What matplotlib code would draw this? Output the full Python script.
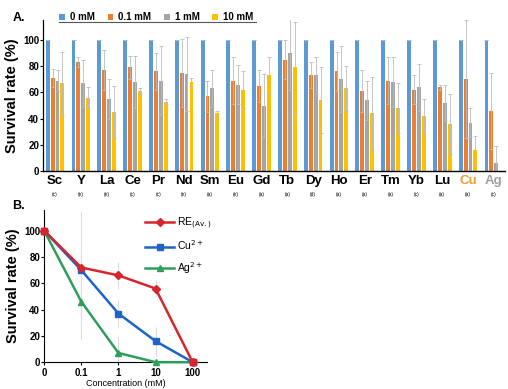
"""Survival rate chart: panel A bars per element, panel B concentration curves"""
import matplotlib
matplotlib.use("Agg")
import matplotlib.pyplot as plt
import matplotlib.transforms as mtrans
import numpy as np

plt.rcParams["font.family"] = ["Liberation Sans", "DejaVu Sans"]

# ---- panel A data ----
elements = ["Sc", "Y", "La", "Ce", "Pr", "Nd", "Sm", "Eu", "Gd", "Tb",
            "Dy", "Ho", "Er", "Tm", "Yb", "Lu", "Cu", "Ag"]
groups = ["(c)", "(n)", "(n)", "(c)", "(c)", "(n)", "(a)", "(n)", "(a)", "(a)",
          "(d)", "(a)", "(a)", "(a)", "(c)", "(a)", "(a)", "(c)"]
conc_labels = ["0 mM", "0.1 mM", "1 mM", "10 mM"]

surv_0 = [100] * 18
surv_01 = [71, 83, 77, 79, 76, 75, 57, 69, 65, 85, 73, 76, 61, 69, 62, 64, 70, 46]
surv_1 = [69, 67, 55, 68, 69, 74, 63, 66, 50, 90, 73, 70, 54, 68, 64, 52, 37, 6]
surv_10 = [67, 56, 45, 61, 53, 68, 44, 62, 73, 79, 54, 63, 44, 48, 42, 36, 16, 0]

err_0 = [0] * 18
err_01 = [7, 4, 15, 9, 14, 26, 12, 18, 12, 15, 10, 15, 16, 18, 11, 2, 45, 29]
err_1 = [8, 18, 15, 20, 26, 28, 14, 15, 24, 28, 14, 25, 15, 19, 18, 14, 11, 13]
err_10 = [24, 8, 20, 2, 2, 3, 2, 14, 14, 35, 25, 17, 28, 19, 13, 23, 11, 0]

# ---- panel B data ----
conc_ticks = ["0", "0.1", "1", "10", "100"]
re_avg = [100, 72, 66, 56, 0]
cu_curve = [100, 70, 37, 16, 0]
ag_curve = [100, 46, 7, 0, 0]
re_err = [0, 8, 10, 6, 0]
cu_err = [0, 45, 11, 11, 0]
ag_err = [0, 29, 13, 0, 0]

bar_colors = ["#5B9BD5", "#ED7D31", "#A5A5A5", "#FFC000"]

fig = plt.figure(figsize=(5.08, 3.89), dpi=100)

# ---------------- Panel A ----------------
axA = fig.add_axes([0.085, 0.56, 0.91, 0.388])
x = np.arange(len(elements))
width = 0.15
step = 0.19
series = [surv_0, surv_01, surv_1, surv_10]
errs = [err_0, err_01, err_1, err_10]
for i, (vals, e, c, lab) in enumerate(zip(series, errs, bar_colors, conc_labels)):
    axA.bar(x + (i - 1.5) * step, vals, width, color=c, label=lab,
            yerr=e, ecolor="#BBBBBB",
            error_kw=dict(elinewidth=0.6, capsize=1.5, capthick=0.6))

axA.set_xlim(-0.46, 17.45)
axA.set_ylim(0, 115)
axA.set_yticks([0, 20, 40, 60, 80, 100])
axA.tick_params(axis="y", labelsize=7, length=2, width=0.8, pad=1)
for t in axA.get_yticklabels():
    t.set_fontweight("bold")
axA.set_xticks(x)
axA.set_xticklabels(elements, fontsize=9.5, fontweight="bold")
axA.tick_params(axis="x", length=0, pad=3)
for t, name in zip(axA.get_xticklabels(), elements):
    if name == "Cu":
        t.set_color("#F39C33")
    elif name == "Ag":
        t.set_color("#A0A0A0")
trans = mtrans.blended_transform_factory(axA.transData, axA.transAxes)
for xi, g in zip(x, groups):
    axA.text(xi, -0.14, g, transform=trans, ha="center", va="top", fontsize=3.5)
for s in ["top", "right"]:
    axA.spines[s].set_visible(False)
axA.spines["left"].set_linewidth(0.9)
axA.spines["bottom"].set_linewidth(1.0)
axA.set_ylabel("Survival rate (%)", fontsize=10.5, fontweight="bold", labelpad=3)

axA.legend(loc="lower left", bbox_to_anchor=(0.035, 0.985), ncol=4,
           frameon=False, prop={"weight": "bold", "size": 7},
           handlelength=0.6, handleheight=0.6, handletextpad=0.5,
           columnspacing=1.3, borderaxespad=0, borderpad=0)
axA.plot([0.035, 0.46], [0.99, 0.99], transform=axA.transAxes,
         color="#555555", lw=0.8, clip_on=False)
fig.text(0.024, 0.947, "A.", fontsize=9, fontweight="bold")

# ---------------- Panel B ----------------
axB = fig.add_axes([0.087, 0.069, 0.32, 0.392])
xp = np.arange(len(conc_ticks))
for vals, e in [(re_avg, re_err), (cu_curve, cu_err), (ag_curve, ag_err)]:
    axB.errorbar(xp, vals, yerr=e, fmt="none", ecolor="#DDDDDD",
                 elinewidth=0.8, capsize=0, zorder=1)
axB.plot(xp, ag_curve, color="#2E9E5B", lw=1.8, marker="^", markersize=5,
         label="Ag$^{2+}$", clip_on=False, zorder=3)
axB.plot(xp, cu_curve, color="#1E64C8", lw=1.8, marker="s", markersize=4.5,
         label="Cu$^{2+}$", clip_on=False, zorder=4)
axB.plot(xp, re_avg, color="#D7262B", lw=1.8, marker="D", markersize=4,
         label="RE$_{\\rm (Av.)}$", clip_on=False, zorder=5)
axB.plot([0, 4], [re_avg[0], re_avg[4]], ls="none", marker="s", markersize=5,
         color="#D7262B", clip_on=False, zorder=6)

axB.set_xlim(0, 4.38)
axB.set_ylim(0, 116)
axB.set_xticks(xp)
axB.set_xticklabels(conc_ticks, fontsize=7, fontweight="bold")
axB.set_yticks([0, 20, 40, 60, 80, 100])
axB.tick_params(axis="y", labelsize=7, length=2, width=0.8, pad=1)
axB.tick_params(axis="x", length=2, width=0.8, pad=2)
for t in axB.get_yticklabels():
    t.set_fontweight("bold")
for s in ["top", "right"]:
    axB.spines[s].set_visible(False)
axB.set_ylabel("Survival rate (%)", fontsize=10.5, fontweight="bold", labelpad=3)
axB.set_xlabel("Concentration (mM)", fontsize=6.5, labelpad=1)

h, l = axB.get_legend_handles_labels()
axB.legend(h[::-1], l[::-1], loc="upper right", bbox_to_anchor=(1.09, 1.02),
           frameon=False, fontsize=7.5, handlelength=2.8, handletextpad=0.3,
           labelspacing=0.7)
fig.text(0.024, 0.462, "B.", fontsize=9, fontweight="bold")

fig.savefig("out.png", dpi=100)
